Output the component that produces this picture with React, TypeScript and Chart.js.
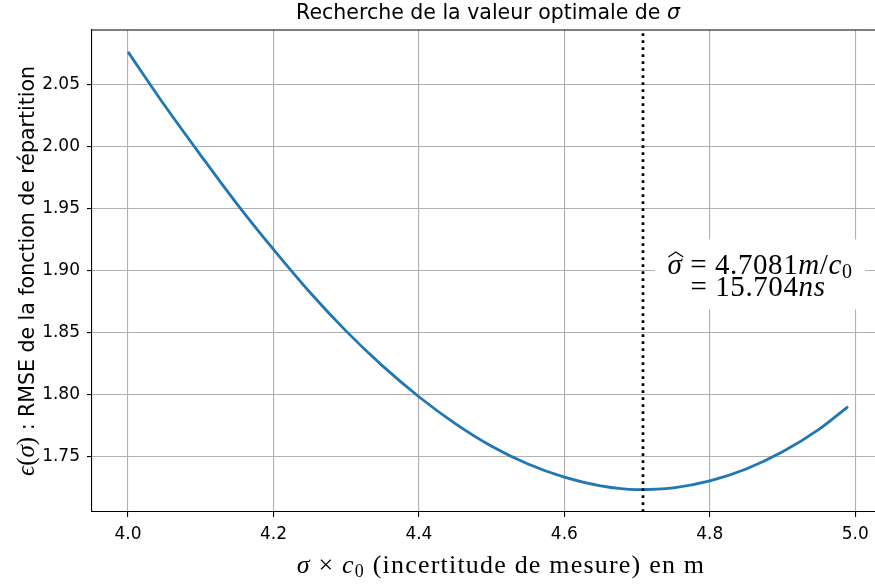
import React, { useEffect, useRef } from "react";
import { Chart, registerables } from "chart.js";

Chart.register(...registerables);

// ---- data ----
const sigmaValues = [4.0, 4.05, 4.1, 4.15, 4.2, 4.25, 4.3, 4.35, 4.4, 4.45, 4.5, 4.55, 4.6, 4.65, 4.7, 4.75, 4.8, 4.85, 4.9, 4.95, 4.99];
const rmseValues = [2.0765, 2.0336, 1.993, 1.9536, 1.917, 1.8824, 1.851, 1.8229, 1.798, 1.7763, 1.758, 1.7436, 1.733, 1.726, 1.723, 1.7244, 1.73, 1.7396, 1.7535, 1.7716, 1.79];
const optimalSigma = 4.7081;
const optimalSigmaText = "4.7081";
const optimalNsText = "15.704";
const xTickValues = [4.0, 4.2, 4.4, 4.6, 4.8, 5.0];
const yTickValues = [1.75, 1.8, 1.85, 1.9, 1.95, 2.0, 2.05];
const xRange = [3.9505, 5.0395];
const yRange = [1.7049, 2.0942];
const titleText = "Recherche de la valeur optimale de ";
const yLabelText = "RMSE de la fonction de répartition";
const xLabelText = " (incertitude de mesure) en m";

const SANS = '"DejaVu Sans", sans-serif';
const SERIF = '"Liberation Serif", "DejaVu Serif", serif';

type Run = { t: string; f: string; dy?: number };

function runsWidth(ctx: any, runs: Run[]) {
  let w = 0;
  for (const r of runs) {
    ctx.font = r.f;
    w += ctx.measureText(r.t).width;
  }
  return w;
}

function drawRuns(ctx: any, runs: Run[], x: number, y: number) {
  let cx = x;
  const pos: number[] = [];
  for (const r of runs) {
    ctx.font = r.f;
    pos.push(cx);
    ctx.fillText(r.t, cx, y + (r.dy || 0));
    cx += ctx.measureText(r.t).width;
  }
  return pos;
}

const textPlugin = {
  id: "textPlugin",
  afterDraw(chart: any) {
    const { ctx, chartArea: a, scales } = chart;
    const xs = scales.x;
    const ys = scales.y;
    ctx.save();
    // frame top / right
    ctx.strokeStyle = "#000";
    ctx.lineWidth = 1.1;
    ctx.beginPath();
    ctx.moveTo(a.left, a.top);
    ctx.lineTo(a.right, a.top);
    ctx.lineTo(a.right, a.bottom);
    ctx.stroke();

    ctx.fillStyle = "#000";
    ctx.textAlign = "left";
    ctx.textBaseline = "alphabetic";

    // title
    const titleRuns: Run[] = [
      { t: titleText, f: `20.5px ${SANS}` },
      { t: "σ", f: `italic 20.5px ${SANS}` },
    ];
    const tw = runsWidth(ctx, titleRuns);
    drawRuns(ctx, titleRuns, (a.left + a.right) / 2 - tw / 2, 19);

    // x label
    ctx.letterSpacing = "1.2px";
    const xRuns: Run[] = [
      { t: "σ", f: `italic 26px ${SERIF}` },
      { t: " × ", f: `26px ${SERIF}` },
      { t: "c", f: `italic 26px ${SERIF}` },
      { t: "0", f: `18px ${SERIF}`, dy: 4 },
      { t: xLabelText, f: `26px ${SERIF}` },
    ];
    const xw = runsWidth(ctx, xRuns);
    drawRuns(ctx, xRuns, (a.left + a.right) / 2 + 13 - xw / 2, 573);
    ctx.letterSpacing = "0px";

    // y label (rotated)
    const yRuns: Run[] = [
      { t: "ϵ", f: `italic 25px ${SERIF}` },
      { t: "(", f: `25px ${SERIF}` },
      { t: "σ", f: `italic 25px ${SERIF}` },
      { t: ")", f: `25px ${SERIF}` },
      { t: " : ", f: `20.5px ${SANS}` },
      { t: yLabelText, f: `20.5px ${SANS}` },
    ];
    const yw = runsWidth(ctx, yRuns);
    ctx.save();
    ctx.translate(34, (a.top + a.bottom) / 2);
    ctx.rotate(-Math.PI / 2);
    drawRuns(ctx, yRuns, -yw / 2, 0);
    ctx.restore();

    // annotation
    const px = xs.getPixelForValue(optimalSigma);
    const gy = ys.getPixelForValue(1.9);
    ctx.fillStyle = "#fff";
    ctx.fillRect(px + 12, gy - 31, 210, 70);
    ctx.fillStyle = "#000";
    const cx = px + 117;
    const fs = 29;
    ctx.letterSpacing = "0.6px";
    const line1: Run[] = [
      { t: "σ", f: `italic ${fs}px ${SERIF}` },
      { t: " = ", f: `${fs}px ${SERIF}` },
      { t: optimalSigmaText, f: `${fs}px ${SERIF}` },
      { t: "m", f: `italic ${fs}px ${SERIF}` },
      { t: "/", f: `${fs}px ${SERIF}` },
      { t: "c", f: `italic ${fs}px ${SERIF}` },
      { t: "0", f: `${Math.round(fs * 0.7)}px ${SERIF}`, dy: 4 },
    ];
    const w1 = runsWidth(ctx, line1);
    const p1 = drawRuns(ctx, line1, cx - w1 / 2, gy + 3.5);
    // wide hat over sigma
    ctx.font = `italic ${fs}px ${SERIF}`;
    const sw = ctx.measureText("σ").width;
    const hx = p1[0];
    const hTop = gy - 18.5;
    ctx.strokeStyle = "#000";
    ctx.lineWidth = 1.2;
    ctx.beginPath();
    ctx.moveTo(hx + 1, hTop + 5);
    ctx.lineTo(hx + sw / 2 + 1, hTop);
    ctx.lineTo(hx + sw + 1, hTop + 5);
    ctx.stroke();

    const line2: Run[] = [
      { t: "= ", f: `${fs}px ${SERIF}` },
      { t: optimalNsText, f: `${fs}px ${SERIF}` },
      { t: "ns", f: `italic ${fs}px ${SERIF}` },
    ];
    const w2 = runsWidth(ctx, line2);
    drawRuns(ctx, line2, cx - w2 / 2 - 2, gy + 26);
    ctx.letterSpacing = "0px";
    ctx.restore();
  },
};

export default function App() {
  const ref = useRef<HTMLCanvasElement | null>(null);
  useEffect(() => {
    if (!ref.current) return;
    const curve = sigmaValues.map((s, i) => ({ x: s, y: rmseValues[i] }));
    const vline = [
      { x: optimalSigma, y: yRange[0] },
      { x: optimalSigma, y: yRange[1] },
    ];
    const tickFont = { family: "DejaVu Sans", size: 17 };
    const chart = new Chart(ref.current, {
      type: "scatter",
      data: {
        datasets: [
          {
            data: vline,
            showLine: true,
            borderColor: "#000",
            borderWidth: 2.7,
            borderDash: [2.7, 4.3],
            pointRadius: 0,
            order: 1,
          },
          {
            data: curve,
            showLine: true,
            borderColor: "#1f77b4",
            borderWidth: 2.8,
            pointRadius: 0,
            cubicInterpolationMode: "monotone",
            order: 2,
          },
        ],
      },
      options: {
        responsive: false,
        animation: false,
        devicePixelRatio: 1,
        layout: { padding: { top: 30, right: 2, left: 0, bottom: 0 } },
        plugins: {
          legend: { display: false },
          title: { display: false },
          tooltip: { enabled: false },
        },
        scales: {
          x: {
            type: "linear",
            min: xRange[0],
            max: xRange[1],
            afterBuildTicks: (s: any) => {
              s.ticks = xTickValues.map((v) => ({ value: v }));
            },
            afterFit: (s: any) => {
              s.height = 74;
            },
            ticks: {
              callback: (v: any) => Number(v).toFixed(1),
              font: tickFont,
              color: "#000",
              padding: 7,
              maxRotation: 0,
              autoSkip: false,
            },
            grid: { color: "#b0b0b0", lineWidth: 1.1, tickLength: 5, tickColor: "#000", tickWidth: 1.1 },
            border: { color: "#000", width: 1.1 },
          },
          y: {
            type: "linear",
            min: yRange[0],
            max: yRange[1],
            afterBuildTicks: (s: any) => {
              s.ticks = yTickValues.map((v) => ({ value: v }));
            },
            afterFit: (s: any) => {
              s.width = 92;
            },
            ticks: {
              callback: (v: any) => Number(v).toFixed(2),
              font: tickFont,
              color: "#000",
              padding: 7,
              autoSkip: false,
            },
            grid: { color: "#b0b0b0", lineWidth: 1.1, tickLength: 5, tickColor: "#000", tickWidth: 1.1 },
            border: { color: "#000", width: 1.1 },
          },
        },
      },
      plugins: [textPlugin],
    } as any);
    return () => chart.destroy();
  }, []);
  return (
    <div
      style={{
        position: "fixed",
        left: 0,
        top: 0,
        width: 875,
        height: 586,
        overflow: "hidden",
        background: "#fff",
      }}
    >
      <canvas ref={ref} width={886} height={586} style={{ display: "block", width: 886, height: 586 }} />
    </div>
  );
}
